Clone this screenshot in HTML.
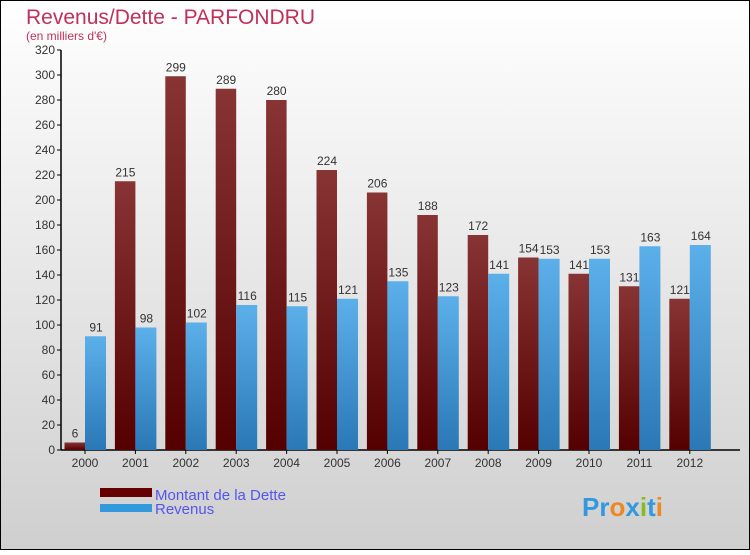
<!DOCTYPE html>
<html><head><meta charset="utf-8"><style>
body{margin:0;width:750px;height:550px;overflow:hidden;font-family:"Liberation Sans",sans-serif}
</style></head><body>
<svg width="750" height="550" xmlns="http://www.w3.org/2000/svg">
<defs>
<linearGradient id="bg" x1="0" y1="0" x2="0" y2="1"><stop offset="0" stop-color="#ffffff"/><stop offset="1" stop-color="#cfcfcf"/></linearGradient>
<linearGradient id="gd" x1="0" y1="0" x2="0" y2="1"><stop offset="0" stop-color="#883434"/><stop offset="1" stop-color="#550000"/></linearGradient>
<linearGradient id="gr" x1="0" y1="0" x2="0" y2="1"><stop offset="0" stop-color="#5cb0ea"/><stop offset="1" stop-color="#2a78b6"/></linearGradient>
</defs>
<rect x="0.5" y="0.5" width="749" height="549" fill="url(#bg)" stroke="#000"/>
<text x="26" y="24" font-size="21" fill="#c0305a">Revenus/Dette - PARFONDRU</text>
<text x="26" y="40" font-size="12" fill="#c0305a">(en milliers d'€)</text>
<g id="axes"></g>
<g id="bars"></g>
<rect x="100" y="488" width="52" height="9" fill="#660000"/>
<text x="155" y="500" font-size="15" fill="#5555ee">Montant de la Dette</text>
<rect x="100" y="504" width="52" height="8" fill="#3399dd"/>
<text x="155" y="514" font-size="15" fill="#5555ee">Revenus</text>
<text x="582" y="516" font-size="26" font-weight="bold"><tspan fill="#3399dd">Pr</tspan><tspan fill="#ee8822">o</tspan><tspan fill="#3399dd">x</tspan><tspan fill="#88bb22">i</tspan><tspan fill="#3399dd">t</tspan><tspan fill="#ee8822">i</tspan></text>
</svg>
<script>
const years=["2000","2001","2002","2003","2004","2005","2006","2007","2008","2009","2010","2011","2012"];
const dette=[6,215,299,289,280,224,206,188,172,154,141,131,121];
const revenus=[91,98,102,116,115,121,135,123,141,153,153,163,164];
const yTicks=[0,20,40,60,80,100,120,140,160,180,200,220,240,260,280,300,320];
const NS="http://www.w3.org/2000/svg";
const y=v=>450-v*1.25;
const xc=i=>85+i*50.4;
const ax=document.getElementById('axes'),bg=document.getElementById('bars');
function mk(p,tag,at){const e=document.createElementNS(NS,tag);for(const k in at)e.setAttribute(k,at[k]);p.appendChild(e);return e;}
let l=mk(ax,'line',{x1:61,y1:50,x2:61,y2:450,stroke:'#000','stroke-width':1.5});


l=mk(ax,'line',{x1:61,y1:450,x2:740,y2:450,stroke:'#000','stroke-width':1.5});


yTicks.forEach(t=>{
 const tk=mk(ax,'line',{x1:57,x2:61,y1:y(t),y2:y(t),stroke:'#000'});
 
 
 const tx=mk(ax,'text',{x:55,y:y(t)+4,'font-size':12,fill:'#333','text-anchor':'end'});
 tx.textContent=t;
 
 
});
years.forEach((yr,i)=>{
 const c=xc(i);
 const tk=mk(ax,'line',{x1:c,x2:c,y1:450,y2:454,stroke:'#000'});
 
 
 const tx=mk(ax,'text',{x:c,y:467,'font-size':12,fill:'#333','text-anchor':'middle'});
 tx.textContent=yr;
 
 
 const b1=mk(bg,'rect',{x:c-20.5,y:y(dette[i]),width:20.5,height:dette[i]*1.25,fill:'url(#gd)'});
 
 
 const b2=mk(bg,'rect',{x:c,y:y(revenus[i]),width:21,height:revenus[i]*1.25,fill:'url(#gr)'});
 
 
 const t1=mk(bg,'text',{x:c-10,y:y(dette[i])-5,'font-size':12,fill:'#333','text-anchor':'middle'});
 t1.textContent=dette[i];
 
 
 const t2=mk(bg,'text',{x:c+11,y:y(revenus[i])-5,'font-size':12,fill:'#333','text-anchor':'middle'});
 t2.textContent=revenus[i];
 
 
});
</script>
</body></html>
